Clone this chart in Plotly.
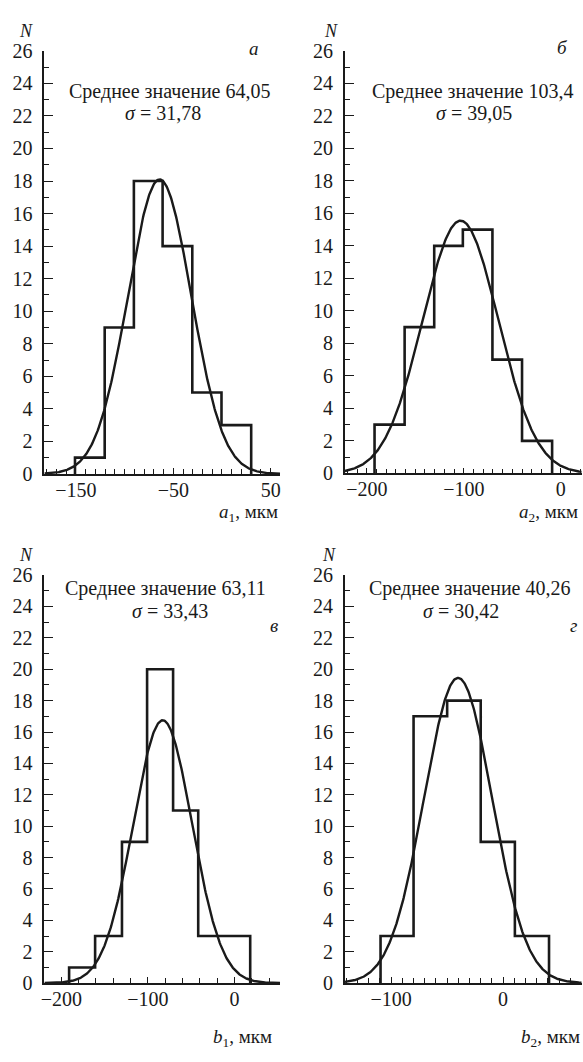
import numpy as np
import plotly.graph_objects as go

W, H = 583, 1062

# ---------------- data ----------------
edges_a = [-151, -120.5, -90.5, -61, -30.5, -0.5, 30]
counts_a = [1, 9, 18, 14, 5, 3]
edges_b = [-192, -161, -130.5, -101, -70.5, -40, -9]
counts_b = [3, 9, 14, 15, 7, 2]
edges_c = [-191, -161, -130, -101, -71, -42, -12, 18]
counts_c = [1, 3, 9, 20, 11, 3, 3]
edges_d = [-109.5, -80, -50, -20, 10.5, 41]
counts_d = [3, 17, 18, 9, 3]

curve_mean = [-64.05, -103.4, -83.0, -40.26]
curve_sigma = [32.5, 39.05, 34.0, 30.42]
curve_peak = [18.1, 15.55, 16.75, 19.45]

stat_mean_text = ["64,05", "103,4", "63,11", "40,26"]
stat_sigma_text = ["31,78", "39,05", "33,43", "30,42"]
panel_letters = ["а", "б", "в", "г"]
axis_names = ["<i>a</i><sub>1</sub>, мкм", "<i>a</i><sub>2</sub>, мкм",
              "<i>b</i><sub>1</sub>, мкм", "<i>b</i><sub>2</sub>, мкм"]

x_ranges = [[-182.4, 59.7], [-222.5, 21.5], [-219.5, 52.5], [-141.3, 70.2]]
x_tickvals = [[-150, -50, 50], [-200, -100, 0], [-200, -100, 0], [-100, 0]]
x_ticktext = [["−150", "−50", "50"], ["−200", "−100", "0"],
              ["−200", "−100", "0"], ["−100", "0"]]
x_minor = [10, 10, 20, 10]
y_ticks = list(range(0, 27, 2))

# ---------------- layout helpers ----------------
INK = "#1a1a1a"
FONT = "Liberation Serif, DejaVu Serif, serif"


def fx(p):
    return p / W


def fy(p):
    return 1 - p / H


domains = [
    ([40.7, 278.0], [472.7, 40.7]),
    ([343.3, 581.7], [472.2, 40.7]),
    ([40.7, 278.0], [992.7, 576.0]),
    ([343.3, 581.7], [992.7, 576.0]),
]

fig = go.Figure()
edges_all = [edges_a, edges_b, edges_c, edges_d]
counts_all = [counts_a, counts_b, counts_c, counts_d]

for i in range(4):
    xa = "x" if i == 0 else f"x{i+1}"
    ya = "y" if i == 0 else f"y{i+1}"
    e, c = edges_all[i], counts_all[i]
    sx, sy = [e[0]], [0]
    for k in range(len(c)):
        sx += [e[k], e[k + 1]]
        sy += [c[k], c[k]]
    sx.append(e[-1])
    sy.append(0)
    fig.add_trace(go.Scatter(x=sx, y=sy, mode="lines", xaxis=xa, yaxis=ya,
                             line=dict(color=INK, width=2.6), showlegend=False,
                             hoverinfo="skip"))
    gx = np.linspace(x_ranges[i][0], x_ranges[i][1], 400)
    gy = curve_peak[i] * np.exp(-(gx - curve_mean[i]) ** 2 / (2 * curve_sigma[i] ** 2))
    fig.add_trace(go.Scatter(x=gx, y=gy, mode="lines", xaxis=xa, yaxis=ya,
                             line=dict(color=INK, width=2.4), showlegend=False,
                             hoverinfo="skip"))

layout = dict(width=W, height=H, margin=dict(l=0, r=0, t=0, b=0),
              plot_bgcolor="white", paper_bgcolor="white",
              font=dict(family=FONT, size=18, color=INK))
for i in range(4):
    (x0, x1), (yb, yt) = domains[i]
    key = "" if i == 0 else str(i + 1)
    layout["xaxis" + key] = dict(
        domain=[fx(x0), fx(x1)], range=x_ranges[i], anchor="y" + key,
        showgrid=False, zeroline=False, showline=True, linecolor=INK, linewidth=1.8,
        ticks="inside", ticklen=6, tickwidth=1.4, tickcolor=INK,
        tickvals=x_tickvals[i], ticktext=x_ticktext[i], ticklabelstandoff=-3,
        minor=dict(dtick=x_minor[i], tick0=0, ticks="inside", ticklen=5,
                   tickwidth=1.4, tickcolor=INK, showgrid=False),
        tickfont=dict(family=FONT, size=20, color=INK), fixedrange=True)
    layout["yaxis" + key] = dict(
        domain=[fy(yb), fy(yt)], range=[0, 26], anchor="x" + key,
        showgrid=False, zeroline=False, showline=True, linecolor=INK, linewidth=1.8,
        ticks="inside", ticklen=9, tickwidth=1.4, tickcolor=INK,
        tickvals=y_ticks, ticklabelstandoff=6,
        minor=dict(dtick=1, tick0=0, ticks="inside", ticklen=5,
                   tickwidth=1.4, tickcolor=INK, showgrid=False),
        tickfont=dict(family=FONT, size=20, color=INK), fixedrange=True)
fig.update_layout(**layout)

ann = []


def add(text, x, y, size=18, xanchor="center", italic=False):
    if italic:
        text = f"<i>{text}</i>"
    ann.append(dict(text=text, x=fx(x), y=fy(y), xref="paper", yref="paper",
                    xanchor=xanchor, yanchor="middle", showarrow=False,
                    font=dict(family=FONT, size=size, color=INK)))


mean_pos = [(167, 82), (472, 82), (163, 590), (469, 590)]
sig_pos = [(160, 104), (473, 104), (167, 613), (460, 613)]
letter_pos = [(252, 38), (562, 37), (272, 628), (573, 628)]
n_pos = [(22, 20), (329, 20), (22, 556), (327, 555)]
name_pos = [(278, 513), (580, 513), (272, 1049), (582, 1049)]

for i in range(4):
    add("Среднее значение " + stat_mean_text[i], *mean_pos[i], size=20)
    add("<i>σ</i> = " + stat_sigma_text[i], *sig_pos[i], size=20)
    add(panel_letters[i], *letter_pos[i], size=19, italic=True)
    add("N", *n_pos[i], size=18, italic=True)
    add(axis_names[i], *name_pos[i], size=19, xanchor="right")

fig.update_layout(annotations=ann)
fig.write_html("out.html")
